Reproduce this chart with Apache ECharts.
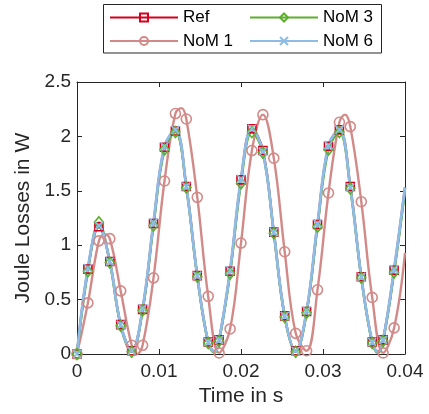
<!DOCTYPE html>
<html>
<head>
<meta charset="utf-8">
<script src="https://cdn.jsdelivr.net/npm/echarts@6/dist/echarts.min.js"></script>
<style>
  html, body { margin: 0; padding: 0; background: #fff; }
  #chart { width: 429px; height: 414px; }
</style>
</head>
<body>
<div id="chart"></div>
<script>
// Time instants that carry a marker (s)
const markerTimes = [0, 0.00133, 0.00267, 0.004, 0.00533, 0.00667, 0.008, 0.00933, 0.01067, 0.012,
  0.01333, 0.01467, 0.016, 0.01733, 0.01867, 0.02, 0.02133, 0.02267, 0.024, 0.02533,
  0.02667, 0.028, 0.02933, 0.03067, 0.032, 0.03333, 0.03467, 0.036, 0.03733, 0.03867];

// Joule losses at the marker instants (W)
const refLoss  = [0.00, 0.78, 1.17, 0.85, 0.27, 0.03, 0.41, 1.20, 1.90, 2.05,
  1.54, 0.72, 0.11, 0.13, 0.76, 1.60, 2.07, 1.87, 1.12, 0.35,
  0.03, 0.39, 1.19, 1.91, 2.06, 1.54, 0.71, 0.11, 0.13, 0.77];
const nom1Loss = [0.00, 0.47, 1.04, 1.06, 0.58, 0.08, 0.08, 0.70, 1.59, 2.21,
  2.16, 1.44, 0.53, 0.01, 0.23, 1.02, 1.87, 2.20, 1.80, 0.94,
  0.19, 0.03, 0.59, 1.48, 2.13, 2.09, 1.40, 0.52, 0.01, 0.24];
const nom3Loss = [0.00, 0.76, 1.21, 0.84, 0.26, 0.02, 0.40, 1.18, 1.88, 2.04,
  1.53, 0.71, 0.10, 0.12, 0.74, 1.57, 2.04, 1.85, 1.11, 0.34,
  0.02, 0.38, 1.17, 1.88, 2.04, 1.52, 0.70, 0.10, 0.12, 0.75];
const nom6Loss = [0.00, 0.79, 1.18, 0.85, 0.27, 0.03, 0.42, 1.21, 1.91, 2.06,
  1.54, 0.72, 0.11, 0.13, 0.77, 1.61, 2.07, 1.86, 1.12, 0.35,
  0.03, 0.40, 1.20, 1.92, 2.06, 1.53, 0.71, 0.11, 0.13, 0.78];

// Additional curve samples between markers (turning points and end of trace)
const refCurveT  = [0.01679, 0.03671, 0.04];
const refCurveV  = [0.02, 0.02, 1.53];
const nom1CurveT = [0.00333, 0.00733, 0.01273, 0.03267, 0.04];
const nom1CurveV = [1.10, 0.00, 2.26, 2.20, 0.93];
const nom3CurveT = [0.01679, 0.03671, 0.04];
const nom3CurveV = [0.01, 0.01, 1.50];
const nom6CurveT = [0.01679, 0.03671, 0.04];
const nom6CurveV = [0.02, 0.02, 1.53];

// Axis ticks
const timeTicks = [0, 0.01, 0.02, 0.03, 0.04];
const lossTicks = [0, 0.5, 1, 1.5, 2, 2.5];

const FONT = 'Liberation Sans, Arial, Helvetica, sans-serif';
const AXIS_COLOR = '#262626';

function buildData(values, curveT, curveV) {
  const pts = markerTimes.map((t, i) => ({ value: [t, values[i]] }));
  curveT.forEach((t, i) => pts.push({ value: [t, curveV[i]], symbol: 'none' }));
  pts.sort((a, b) => a.value[0] - b.value[0]);
  return pts;
}

function makeSeries(name, values, curveT, curveV, color, symbol, symbolSize, width) {
  return {
    name: name,
    type: 'line',
    data: buildData(values, curveT, curveV),
    smooth: 0.4,
    symbol: symbol,
    symbolSize: symbolSize,
    showAllSymbol: true,
    lineStyle: { color: color, width: width },
    itemStyle: { color: 'rgba(255,255,255,0)', borderColor: color, borderWidth: 1.6 },
    emphasis: { disabled: true },
    animation: false
  };
}

function valueAxis(pos, ticks, showLabel, extra) {
  return Object.assign({
    type: 'value',
    position: pos,
    min: ticks[0],
    max: ticks[ticks.length - 1],
    interval: ticks[1] - ticks[0],
    axisLine: { show: true, onZero: false, lineStyle: { color: AXIS_COLOR, width: 1 } },
    axisTick: { show: true, inside: true, length: 5, lineStyle: { color: AXIS_COLOR, width: 1 } },
    axisLabel: { show: showLabel, color: AXIS_COLOR, fontSize: 19, fontFamily: FONT },
    splitLine: { show: false }
  }, extra || {});
}

const chart = echarts.init(document.getElementById('chart'), null, { renderer: 'canvas' });

const legendCommon = {
  orient: 'vertical',
  top: 9,
  padding: 0,
  itemWidth: 68,
  itemHeight: 10,
  itemGap: 6.5,
  selectedMode: false,
  textStyle: { fontSize: 17, color: '#000', fontFamily: FONT }
};

chart.setOption({
  animation: false,
  backgroundColor: '#fff',
  grid: { left: 77, right: 24, top: 82, bottom: 60, containLabel: false, outerBoundsMode: 'none' },
  xAxis: [
    valueAxis('bottom', timeTicks, true, {
      name: 'Time in s', nameLocation: 'middle', nameGap: 31,
      nameTextStyle: { fontSize: 21, color: AXIS_COLOR, fontFamily: FONT },
      axisLabel: { show: true, color: AXIS_COLOR, fontSize: 19, fontFamily: FONT, margin: 8 }
    }),
    valueAxis('top', timeTicks, false)
  ],
  yAxis: [
    valueAxis('left', lossTicks, true, {
      name: 'Joule Losses in W', nameLocation: 'middle', nameGap: 37,
      nameTextStyle: { fontSize: 21, color: AXIS_COLOR, fontFamily: FONT },
      axisLabel: { show: true, color: AXIS_COLOR, fontSize: 19, fontFamily: FONT, margin: 6 }
    }),
    valueAxis('right', lossTicks, false)
  ],
  legend: [
    Object.assign({ left: 109, data: ['Ref', 'NoM 1'] }, legendCommon),
    Object.assign({ left: 249, data: ['NoM 3', 'NoM 6'] }, legendCommon)
  ],
  graphic: [{
    type: 'rect',
    z: 0,
    shape: { x: 103.5, y: 4.5, width: 278, height: 48.5 },
    style: { fill: '#fff', stroke: AXIS_COLOR, lineWidth: 1 }
  }],
  series: [
    makeSeries('Ref', refLoss, refCurveT, refCurveV, '#D6001C', 'rect', 8, 2.4),
    makeSeries('NoM 1', nom1Loss, nom1CurveT, nom1CurveV, '#D28A88', 'circle', 10, 2.4),
    makeSeries('NoM 3', nom3Loss, nom3CurveT, nom3CurveV, '#5CAE2B', 'diamond', [9, 11], 2.4),
    makeSeries('NoM 6', nom6Loss, nom6CurveT, nom6CurveV, '#8EBCE6', 'path://M0,0L10,10M10,0L0,10', 8, 2.8)
  ]
});
</script>
</body>
</html>
